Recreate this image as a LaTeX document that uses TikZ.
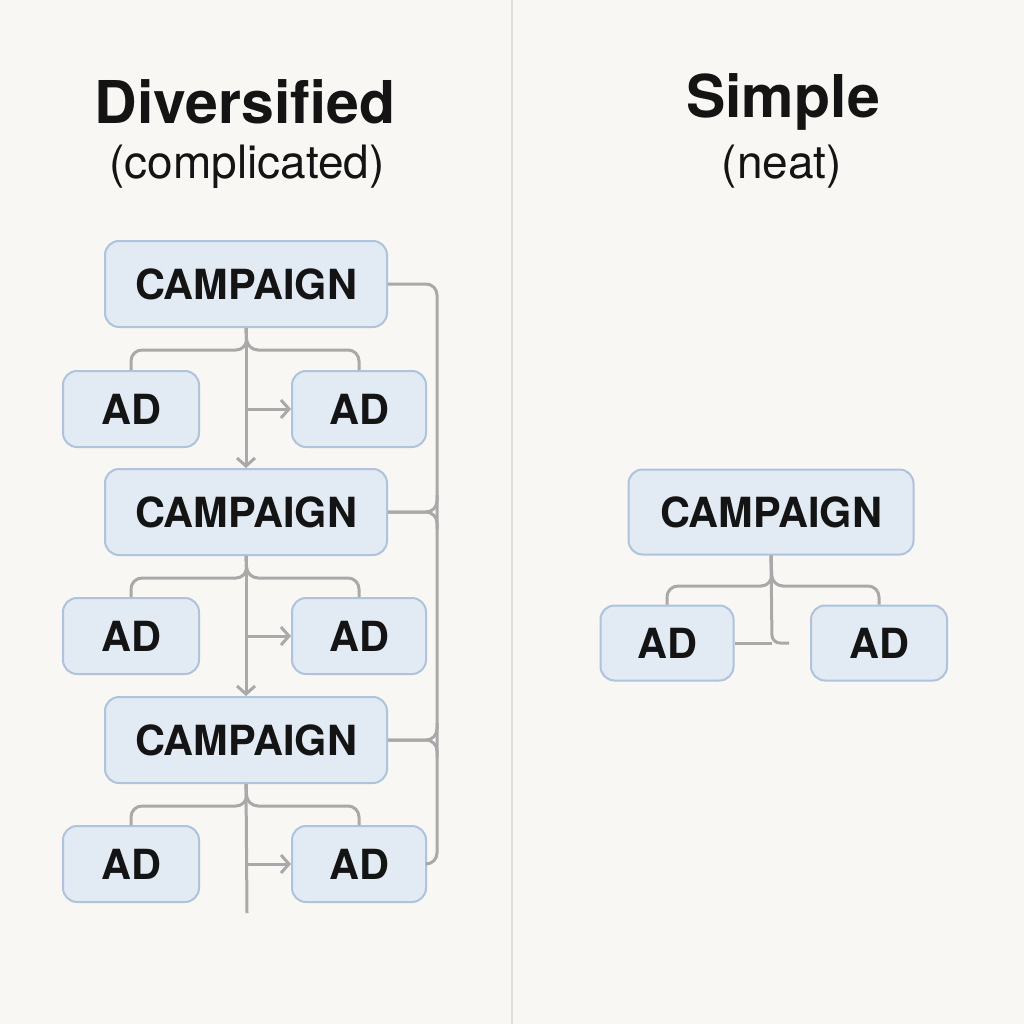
\documentclass[tikz,border=0pt]{standalone}
\usepackage{fontspec}
\setmainfont{TeX Gyre Heros}
\usetikzlibrary{arrows.meta}
\definecolor{bg}{HTML}{F8F7F4}
\definecolor{boxfill}{HTML}{E2EAF4}
\definecolor{boxline}{HTML}{AFC3DC}
\definecolor{conn}{HTML}{A9A9A9}
\definecolor{divider}{HTML}{E0DEDA}
\definecolor{ink}{HTML}{141414}
\begin{document}
\begin{tikzpicture}[x=1pt,y=-1pt,
  box/.style={draw=boxline,fill=boxfill,line width=2pt,rounded corners=14pt,inner sep=0pt,
    text=ink,font=\fontsize{41.5}{48}\selectfont\bfseries},
  campbox/.style={box,minimum width=282pt,minimum height=86pt},
  adbox/.style={box,minimum width=136pt,minimum height=76pt},
  line/.style={draw=conn,line width=3pt,rounded corners=11pt},
  arr/.style={draw=conn,line width=3pt,-{Straight Barb[length=8pt,width=18pt,line width=3pt]}},
  title/.style={text=ink,font=\fontsize{59}{66}\selectfont\bfseries,inner sep=0pt},
  subtitle/.style={text=ink,font=\fontsize{46}{52}\selectfont,inner sep=0pt}
]
\useasboundingbox[fill=bg] (0,0) rectangle (1024,1024);
\draw[divider,line width=2pt] (512,0) -- (512,1024);

% titles
\node[title] (tl) at (245,102) {Diversified};
\node[subtitle] (stl) at (247,167) {(complicated)};
\node[title] (tr) at (783,102) {Simple};
\node[subtitle] (str) at (782,167) {(neat)};

% left diagram nodes
\node[campbox] (c1) at (246,284) {CAMPAIGN};
\node[adbox] (a1l) at (131,409) {AD};
\node[adbox,minimum width=134pt] (a1r) at (359,409) {AD};
\node[campbox] (c2) at (246,512) {CAMPAIGN};
\node[adbox] (a2l) at (131,636) {AD};
\node[adbox,minimum width=134pt] (a2r) at (359,636) {AD};
\node[campbox] (c3) at (246,740) {CAMPAIGN};
\node[adbox] (a3l) at (131,864) {AD};
\node[adbox,minimum width=134pt] (a3r) at (359,864) {AD};
\coordinate (end) at (247,913);

% left branches
\foreach \c/\l/\r/\y in {c1/a1l/a1r/350, c2/a2l/a2r/578, c3/a3l/a3r/806}{
  \draw[line] (\c.south) -- (247,\y) -- (\l.north|-0,\y) -- (\l.north);
  \draw[line] (\c.south) -- (247,\y) -- (\r.north|-0,\y) -- (\r.north);
}
% trunk
\draw[arr] (c1.south) -- (c2.north);
\draw[arr] (c2.south) -- (c3.north);
\draw[line] (c3.south) -- (end);
% side arrows
\draw[arr] (247,409) -- (a1r.west);
\draw[arr] (247,636) -- (a2r.west);
\draw[arr] (247,864) -- (a3r.west);
% right bus
\draw[line] (c1.east) -- (437,284) -- (437,864) -- (a3r.east);
\draw[line] (c2.east) -- (437,512) -- (437,495);
\draw[line] (c2.east) -- (437,512) -- (437,529);
\draw[line] (c3.east) -- (437,740) -- (437,723);
\draw[line] (c3.east) -- (437,740) -- (437,757);

% right diagram
\node[campbox,minimum width=285pt,minimum height=85pt] (cs) at (771,512) {CAMPAIGN};
\node[adbox,minimum width=133pt,minimum height=75pt] (asl) at (667,643) {AD};
\node[adbox,minimum width=136pt,minimum height=75pt] (asr) at (879,643) {AD};
\coordinate (jn) at (772,643);
\coordinate (tail) at (789,643);
\draw[line] (cs.south) -- (772,586) -- (asl.north|-0,586) -- (asl.north);
\draw[line] (cs.south) -- (772,586) -- (asr.north|-0,586) -- (asr.north);
\draw[line,rounded corners=8pt] (cs.south) -- (jn) -- (tail);
\draw[line] (asl.east) -- (jn);
\end{tikzpicture}
\end{document}
